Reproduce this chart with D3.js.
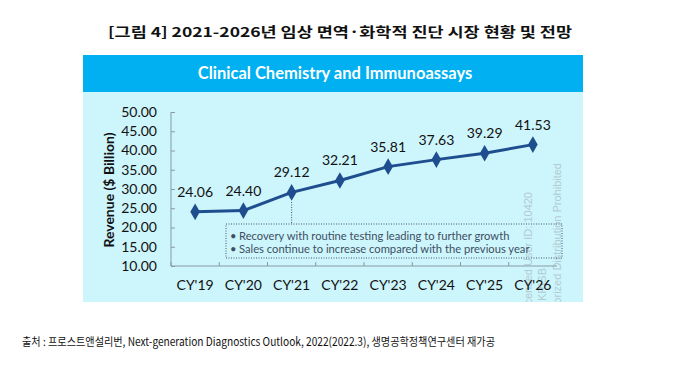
<!DOCTYPE html>
<html><head><meta charset="utf-8">
<script src="https://cdn.jsdelivr.net/npm/d3@7/dist/d3.min.js"></script>
<style>body{margin:0;background:#fff}svg{display:block}</style>
</head><body><svg id="c" width="674" height="368"></svg>
<script>
const categories = ["CY'19","CY'20","CY'21","CY'22","CY'23","CY'24","CY'25","CY'26"];
const revenue = [24.06,24.40,29.12,32.21,35.81,37.63,39.29,41.53];
const yTicks = [10,15,20,25,30,35,40,45,50];
const notes = ["Recovery with routine testing leading to further growth","Sales continue to increase compared with the previous year"];
const figTitle = "[그림 4] 2021-2026년 임상 면역·화학적 진단 시장 현황 및 전망";
const chartTitle = "Clinical Chemistry and Immunoassays";
const yTitle = "Revenue ($ Billion)";
const source = "출처 : 프로스트앤설리번, Next-generation Diagnostics Outlook, 2022(2022.3), 생명공학정책연구센터 재가공";

const svg = d3.select("#c");
const lat = "Lato, 'Open Sans', sans-serif";

svg.append("text").attr("x",340).attr("y",37).attr("text-anchor","middle")
  .attr("font-family","'Noto Sans CJK KR'").attr("font-weight","bold").attr("font-size",13.5)
  .attr("fill","#111").attr("textLength",464).attr("lengthAdjust","spacingAndGlyphs").text(figTitle);

// panel
svg.append("rect").attr("x",83).attr("y",55).attr("width",500).attr("height",247).attr("fill","#cdf5fc");
svg.append("rect").attr("x",83).attr("y",55).attr("width",500).attr("height",37).attr("fill","#00b0f0");
svg.append("text").attr("x",335).attr("y",79).attr("text-anchor","middle")
  .attr("font-family",lat).attr("font-weight","bold").attr("font-size",16.5).attr("fill","#fff").text(chartTitle);

const x = d3.scaleBand().domain(categories).range([171,557]);
const y = d3.scaleLinear().domain([10,50]).range([266,112]);

// watermark
const wm = svg.append("g").attr("font-family","'Liberation Sans', sans-serif").attr("font-size",11).attr("fill","#9fb0b8").attr("opacity",0.6);
[["Licensed User ID: 10420",528,192],["KRISB",542,268],["Unauthorized Distribution Prohibited",557,163]].forEach(([t,xx,yy])=>{
  wm.append("text").attr("transform",`translate(${xx+4},${yy}) rotate(-90)`).attr("text-anchor","end").text(t);
});
svg.append("rect").attr("x",500).attr("y",302).attr("width",100).attr("height",40).attr("fill","#fff");

// axes
const ya = svg.append("g").attr("transform","translate(171,0)")
  .call(d3.axisLeft(y).tickValues(yTicks).tickFormat(d3.format(".2f")).tickSize(4).tickPadding(10));
const xa = svg.append("g").attr("transform","translate(0,266)")
  .call(d3.axisBottom(x).tickSize(0).tickPadding(14));
[ya,xa].forEach(g=>{
  g.select(".domain").attr("stroke","#8a9aa3");
  g.selectAll(".tick line").attr("stroke","#8a9aa3");
  g.selectAll("text").attr("font-family",lat).attr("font-size",14).attr("fill","#111");
});
ya.selectAll(".tick line").attr("x2",4);
ya.select(".domain").attr("d","M0,112V266");
xa.select(".domain").attr("d","M0,0H386").attr("transform","translate(171,0)");
xa.selectAll(".bt").data(categories).enter().append("line")
  .attr("x1",d=>x(d)).attr("x2",d=>x(d)).attr("y1",0).attr("y2",-4).attr("stroke","#8a9aa3");

svg.append("text").attr("transform","translate(114,190) rotate(-90)").attr("text-anchor","middle")
  .attr("font-family",lat).attr("font-weight","bold").attr("font-size",14).attr("fill","#111").text(yTitle);

// annotation box
svg.append("rect").attr("x",226).attr("y",224).attr("width",336).attr("height",34)
  .attr("fill","none").attr("stroke","#44546a").attr("stroke-width",1).attr("stroke-dasharray","1,1.5");
const cx = d=>x(d)+x.bandwidth()/2;
svg.append("line").attr("x1",cx(categories[2])).attr("x2",cx(categories[2]))
  .attr("y1",202).attr("y2",224).attr("stroke","#44546a").attr("stroke-dasharray","1,1.5");
notes.forEach((n,i)=>{
  const t = svg.append("text").attr("x",230).attr("y",240+i*13).attr("font-family",lat).attr("font-size",11.2).attr("fill","#3d4f63");
  t.append("tspan").text("•");
  t.append("tspan").attr("x",239).text(n);
});

// line
svg.append("path").datum(revenue).attr("fill","none").attr("stroke","#1f4e8f").attr("stroke-width",3)
  .attr("d",d3.line().x((d,i)=>cx(categories[i])).y(d=>y(d)));
svg.selectAll(".pt").data(revenue).enter().append("path")
  .attr("d",d3.symbol(d3.symbolDiamond,80)).attr("fill","#1f4e8f")
  .attr("transform",(d,i)=>`translate(${cx(categories[i])},${y(d)})`);
svg.selectAll(".lb").data(revenue).enter().append("text")
  .attr("x",(d,i)=>cx(categories[i])).attr("y",d=>y(d)-15).attr("text-anchor","middle")
  .attr("font-family",lat).attr("font-size",14).attr("fill","#111").text(d=>d.toFixed(2));

// source
svg.append("text").attr("x",22).attr("y",346).attr("font-family","'Noto Sans CJK KR'")
  .attr("font-size",11.5).attr("fill","#111").attr("textLength",473).attr("lengthAdjust","spacingAndGlyphs").text(source);
</script></body></html>
